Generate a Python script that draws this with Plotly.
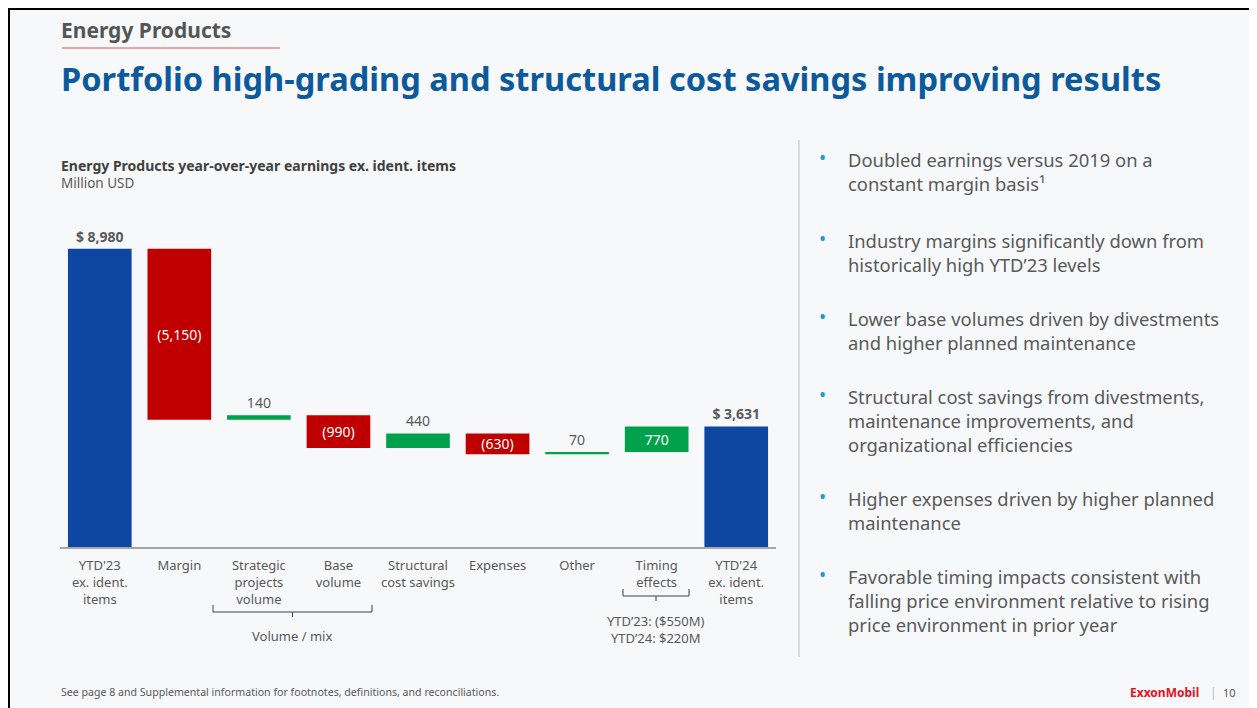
import plotly.graph_objects as go

# ---------------- data ----------------
categories = ["YTD'23<br>ex. ident.<br>items", "Margin", "Strategic<br>projects<br>volume",
              "Base<br>volume", "Structural<br>cost savings", "Expenses", "Other",
              "Timing<br>effects", "YTD'24<br>ex. ident.<br>items"]
values = [8980, -5150, 140, -990, 440, -630, 70, 770, 3631]
measures = ["absolute", "relative", "relative", "relative", "relative", "relative",
            "relative", "relative", "total"]

bullets = [
    "Doubled earnings versus 2019 on a<br>constant margin basis¹",
    "Industry margins significantly down from<br>historically high YTD’23 levels",
    "Lower base volumes driven by divestments<br>and higher planned maintenance",
    "Structural cost savings from divestments,<br>maintenance improvements, and<br>organizational efficiencies",
    "Higher expenses driven by higher planned<br>maintenance",
    "Favorable timing impacts consistent with<br>falling price environment relative to rising<br>price environment in prior year",
]
bullet_tops = [145, 226, 304, 382, 484, 562]

timing_note = "YTD’23: ($550M)<br>YTD’24: $220M"

# ---------------- helpers ----------------
OX, OY = 8, 8                      # page body offset
W, H = 1257 - OX, 708 - OY
L, R, T, B = 60 - OX, 776 - OX, 215 - OY, 547 - OY   # plot area in figure px
FONT = "Noto Sans"
GRAY = "#595959"


def px(x):          # x given in screen (reference) pixels
    return (x - OX - L) / (R - L)


def py(y):
    return (B - (y - OY)) / (B - T)


def fmt(v, m):
    if m in ("absolute", "total"):
        return "<b>$ {:,}</b>".format(v)
    return "({:,})".format(-v) if v < 0 else "{:,}".format(v)


texts = [fmt(v, m) for v, m in zip(values, measures)]
positions = []
for v, m in zip(values, measures):
    if m != "relative":
        positions.append("outside")
    elif v < 0 or abs(v) > 600:
        positions.append("inside")
    else:
        positions.append("outside")

fig = go.Figure()
fig.add_trace(go.Waterfall(
    x=categories, y=values, measure=measures,
    text=texts, textposition=positions,
    insidetextanchor="middle",
    insidetextfont=dict(color="white", size=14, family=FONT),
    outsidetextfont=dict(color=GRAY, size=14, family=FONT),
    increasing=dict(marker=dict(color="#00A14B")),
    decreasing=dict(marker=dict(color="#C00000")),
    totals=dict(marker=dict(color="#0D47A1")),
    connector=dict(visible=False),
    cliponaxis=False,
    constraintext="none",
    hoverinfo="skip",
))

shapes = []
# slide background and border
shapes.append(dict(type="rect", xref="paper", yref="paper", x0=px(8), x1=px(1270),
                   y0=py(6), y1=py(720), fillcolor="#F6F8FA", line=dict(width=0), layer="below"))
shapes.append(dict(type="line", xref="paper", yref="paper", x0=px(8), x1=px(1270),
                   y0=py(9), y1=py(9), line=dict(color="black", width=2)))
shapes.append(dict(type="line", xref="paper", yref="paper", x0=px(9), x1=px(9),
                   y0=py(8), y1=py(720), line=dict(color="black", width=2)))
# header underline
shapes.append(dict(type="line", xref="paper", yref="paper", x0=px(62), x1=px(280),
                   y0=py(48), y1=py(48), line=dict(color="#EE8A8A", width=1.5)))
# separator
shapes.append(dict(type="line", xref="paper", yref="paper", x0=px(799), x1=px(799),
                   y0=py(140), y1=py(657), line=dict(color="#DCDCDC", width=2)))


def bracket(x0, x1, y, up=7, down=5):
    xm = (x0 + x1) / 2
    path = (f"M {px(x0)},{py(y - up)} L {px(x0)},{py(y)} L {px(x1)},{py(y)} L {px(x1)},{py(y - up)} "
            f"M {px(xm)},{py(y)} L {px(xm)},{py(y + down)}")
    return dict(type="path", xref="paper", yref="paper", path=path,
                line=dict(color="#404040", width=1))


shapes.append(bracket(213, 372, 612))
shapes.append(bracket(623, 689, 596))

ann = []


def text(x, y, s, size, color=GRAY, xanchor="left", yanchor="middle", align="left"):
    ann.append(dict(x=px(x), y=py(y), xref="paper", yref="paper", text=s, showarrow=False,
                    xanchor=xanchor, yanchor=yanchor, align=align,
                    font=dict(family=FONT, size=size, color=color)))


text(59, 30, "<b>Energy Products</b>", 21, color="#555555")
text(59, 78, "<b>Portfolio high-grading and structural cost savings improving results</b>", 32.6,
     color="#0C5A9C")
text(59, 166, "<b>Energy Products year-over-year earnings ex. ident. items</b>", 14, color="#404040")
text(59, 183, "Million USD", 13.5, color=GRAY)
text(292, 636, "Volume / mix", 13, xanchor="center")
text(656, 629, timing_note, 13, xanchor="center", align="center")

for s, top in zip(bullets, bullet_tops):
    text(846, top, s, 18.4, yanchor="top")
    text(823, top + 13, "•", 19, color="#1E9BD7", xanchor="center")

text(59, 692, "See page 8 and Supplemental information for footnotes, definitions, and reconciliations.",
     10.6)
text(1164, 692, "<b>ExxonMobil</b>", 12, color="#E8101C", xanchor="center")
text(1213, 692, "|", 12, color="#BFBFBF", xanchor="center")
text(1229, 692, "10", 11, xanchor="center")

fig.update_layout(
    width=W, height=H, autosize=False,
    margin=dict(l=L, r=W - R, t=T, b=H - B, pad=0),
    paper_bgcolor="white", plot_bgcolor="rgba(0,0,0,0)",
    showlegend=False, bargap=0.23,
    font=dict(family=FONT, color=GRAY),
    xaxis=dict(range=[-0.5, 8.5], showline=True, linecolor="#A6A6A6", linewidth=1.5,
               showgrid=False, zeroline=False, ticks="", fixedrange=True,
               tickfont=dict(family=FONT, size=13, color=GRAY), ticklabelstandoff=6),
    yaxis=dict(range=[0, 10000], visible=False, fixedrange=True),
    shapes=shapes, annotations=ann,
    uniformtext=dict(minsize=14, mode="show"),
)

fig.write_html("out.html", config={"displayModeBar": False})
